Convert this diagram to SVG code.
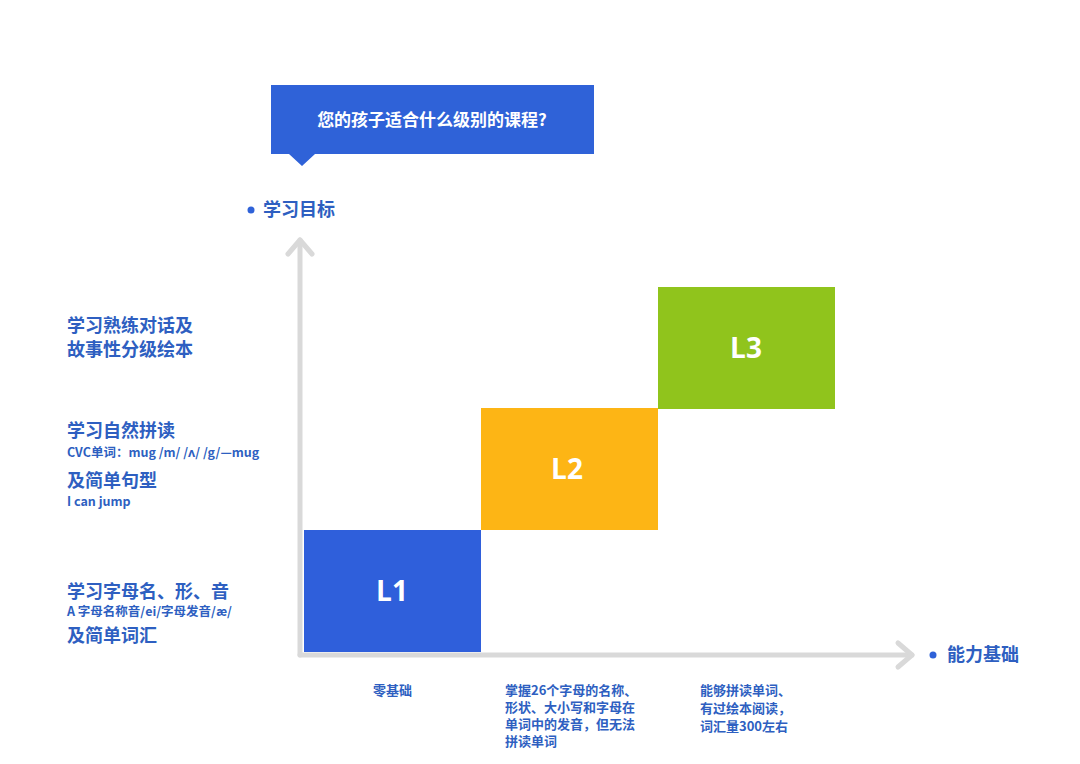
<svg xmlns="http://www.w3.org/2000/svg" width="1080" height="764" viewBox="0 0 1080 764">
<style>
.t{font-family:"Noto Sans CJK SC","Noto Sans",sans-serif;font-weight:bold;fill:#2e5fc1}
.h{font-size:18px}.s{font-size:13px}.b{font-size:12.5px}
.lv{font-family:"Open Sans","Noto Sans",sans-serif;font-weight:bold;font-size:28px;fill:#fff;text-anchor:middle}
.ax{stroke:#d9d9d9;stroke-width:5;fill:none;stroke-linecap:round;stroke-linejoin:round}
</style>
<rect width="1080" height="764" fill="#fff"/>
<g id="title">
<path d="M271 85H594V154H315L302 166L289 154H271Z" fill="#2f62d8"/>
<text x="432" y="126" text-anchor="middle" class="t" style="fill:#fff;font-size:17px">您的孩子适合什么级别的课程?</text>
</g>
<g id="connectors">
<path class="ax" d="M300 655V240"/><path class="ax" d="M288 254L300 240L312 254"/>
<path class="ax" d="M300 655H912"/><path class="ax" d="M898 643L912 655L898 667"/>
</g>
<g id="ylabel"><circle cx="251" cy="210" r="3.5" fill="#2f62d8"/><text x="263" y="216" class="t h">学习目标</text></g>
<g id="xlabel"><circle cx="933" cy="655" r="3.5" fill="#2f62d8"/><text x="947" y="661" class="t h">能力基础</text></g>
<g id="L1"><rect x="304" y="530" width="177" height="122" fill="#2f5fdb"/><text x="392" y="601" class="lv">L1</text></g>
<g id="L2"><rect x="481" y="408" width="177" height="122" fill="#fdb515"/><text x="567" y="479" class="lv">L2</text></g>
<g id="L3"><rect x="658" y="287" width="177" height="122" fill="#90c41c"/><text x="746" y="358" class="lv">L3</text></g>
<g id="goals">
<text x="67" y="332" class="t h">学习熟练对话及</text>
<text x="67" y="356" class="t h">故事性分级绘本</text>
<text x="67" y="437" class="t h">学习自然拼读</text>
<text x="67" y="457" class="t b">CVC单词：mug /m/ /ʌ/ /g/—mug</text>
<text x="67" y="487" class="t h">及简单句型</text>
<text x="67" y="506" class="t b">I can jump</text>
<text x="67" y="598" class="t h">学习字母名、形、音</text>
<text x="67" y="616" class="t b">A 字母名称音/ei/字母发音/æ/</text>
<text x="67" y="642" class="t h">及简单词汇</text>
</g>
<g id="bases">
<text x="373" y="695" class="t s">零基础</text>
<text x="505" y="695" class="t s">掌握26个字母的名称、</text>
<text x="505" y="712" class="t s">形状、大小写和字母在</text>
<text x="505" y="729" class="t s">单词中的发音，但无法</text>
<text x="505" y="746" class="t s">拼读单词</text>
<text x="700" y="695" class="t s">能够拼读单词、</text>
<text x="700" y="713" class="t s">有过绘本阅读，</text>
<text x="700" y="731" class="t s">词汇量300左右</text>
</g>
</svg>
